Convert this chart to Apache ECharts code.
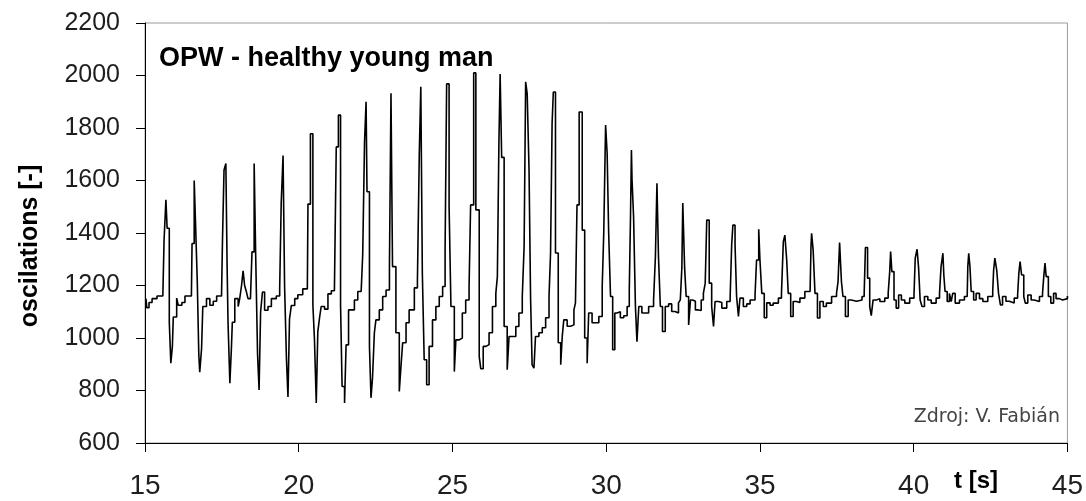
<!DOCTYPE html>
<html>
<head>
<meta charset="utf-8">
<script src="https://cdn.jsdelivr.net/npm/echarts@6/dist/echarts.min.js"></script>
<style>
  html, body { margin: 0; padding: 0; background: #fff; }
  #chart { width: 1086px; height: 501px; }
</style>
</head>
<body>
<div id="chart"></div>
<script>
// Axis ranges [min, max, step]
const timeAxis = [15, 45, 5];
const oscAxis = [600, 2200, 200];

// Texts
const chartTitle = 'OPW - healthy young man';
const yAxisTitle = 'oscilations [-]';
const xAxisTitle = 't [s]';
const sourceNote = 'Zdroj: V. Fabián';

// Signal: [t (s), oscillation value]
const seg15to20 = [
  [15.03,1150],[15.06,1115],[15.13,1135],[15.23,1150],[15.39,1160],[15.58,1165],
  [15.62,1372],[15.68,1527],[15.72,1418],[15.79,1060],[15.84,904],[15.89,967],[15.92,1080],[16.03,1152],[16.08,1125],[16.20,1135],[16.30,1160],[16.51,1168],
  [16.53,1360],[16.60,1600],[16.64,1450],[16.70,1215],[16.75,936],[16.78,870],[16.84,960],[16.88,1120],[17.00,1150],[17.11,1125],[17.22,1140],[17.33,1160],[17.49,1168],
  [17.52,1371],[17.57,1640],[17.63,1665],[17.67,1278],[17.70,1060],[17.76,828],[17.81,960],[17.84,1060],[17.92,1150],[18.03,1120],[18.08,1150],[18.14,1200],[18.19,1256],[18.24,1200],[18.30,1175],[18.35,1150],[18.43,1150],
  [18.48,1328],[18.55,1665],[18.60,1313],[18.66,940],[18.71,802],[18.76,1100],[18.82,1175],[18.89,1106],[19.00,1120],[19.11,1150],[19.27,1160],[19.38,1187],
  [19.43,1515],[19.49,1695],[19.54,1196],[19.60,922],[19.65,775],[19.70,1073],[19.76,1124],[19.87,1150],[19.97,1165]
];
const seg20to25 = [
  [20.13,1187],[20.28,1190],[20.30,1510],[20.38,1778],[20.46,1126],[20.51,998],[20.57,752],[20.62,1023],[20.68,1080],[20.73,1120],[20.84,1110],[20.95,1168],[21.06,1180],[21.16,1177],
  [21.22,1728],[21.29,1849],[21.36,1126],[21.41,815],[21.49,752],[21.54,974],[21.62,1107],[21.71,1107],[21.81,1145],[21.92,1177],[22.03,1183],[22.08,1316],
  [22.14,1747],[22.19,1900],[22.22,1557],[22.30,968],[22.35,772],[22.40,850],[22.46,1020],[22.51,1069],[22.62,1107],[22.73,1158],[22.84,1183],[22.95,1272],
  [23.00,1932],[23.05,1272],[23.16,1020],[23.27,796],[23.33,900],[23.38,982],[23.49,1058],[23.59,1107],[23.76,1191],[23.86,1221],[23.92,1697],
  [23.97,1957],[24.02,1247],[24.08,917],[24.16,822],[24.24,968],[24.35,1069],[24.46,1120],[24.57,1158],[24.68,1196],[24.76,1335],
  [24.81,1968],[24.89,1500],[24.95,1120]
];
const seg25to30 = [
  [25.06,872],[25.11,993],[25.22,1000],[25.32,1095],[25.43,1145],[25.54,1196],[25.59,1507],
  [25.69,2010],[25.76,1488],[25.87,929],[25.92,883],[26.00,968],[26.09,975],[26.19,1020],[26.30,1120],[26.41,1170],[26.46,1234],[26.51,1742],
  [26.55,2006],[26.60,1688],[26.68,1044],[26.78,879],[26.84,1006],[26.95,1006],[27.06,1044],[27.16,1095],[27.27,1158],[27.33,1348],
  [27.38,1976],[27.43,1930],[27.49,1640],[27.54,1153],[27.59,898],[27.65,885],[27.70,1006],[27.81,1020],[27.92,1039],[28.03,1077],[28.14,1158],[28.19,1324],[28.24,1818],
  [28.28,1937],[28.35,1324],[28.44,982],[28.52,898],[28.57,1006],[28.62,1069],[28.73,1045],[28.84,1050],[28.95,1107],[29.00,1134],[29.05,1507],
  [29.12,1861],[29.22,1411],[29.30,1000],[29.38,904],[29.43,1095],[29.54,1058],[29.65,1058],[29.76,1082],[29.87,1196],[29.92,1400],
  [29.98,1811]
];
const seg30to35 = [
  [30.03,1704],[30.08,1400],[30.14,1158],[30.21,955],[30.28,1095],[30.35,1100],[30.46,1077],[30.57,1085],[30.68,1120],[30.75,1183],[30.79,1462],
  [30.82,1716],[30.84,1602],[30.89,1462],[30.95,1120],[31.00,986],[31.06,1120],[31.16,1095],[31.27,1095],[31.38,1120],[31.54,1145],[31.60,1310],
  [31.65,1589],[31.70,1310],[31.76,1120],[31.83,1025],[31.92,1120],[32.03,1130],[32.13,1101],[32.24,1095],[32.35,1134],[32.41,1145],[32.46,1267],
  [32.49,1514],[32.55,1267],[32.60,1158],[32.68,1050],[32.74,1145],[32.81,1140],[32.90,1107],[33.00,1105],[33.09,1145],[33.16,1170],[33.22,1209],
  [33.27,1449],[33.35,1209],[33.43,1120],[33.49,1044],[33.54,1139],[33.65,1135],[33.76,1114],[33.92,1139],[34.03,1152],[34.08,1354],
  [34.12,1430],[34.19,1354],[34.24,1158],[34.30,1082],[34.35,1152],[34.46,1120],[34.57,1130],[34.68,1145],[34.84,1164],[34.89,1297],
  [34.96,1414]
];
const seg35to40 = [
  [35.00,1297],[35.06,1170],[35.14,1077],[35.22,1134],[35.33,1125],[35.43,1133],[35.60,1152],[35.70,1170],[35.76,1367],
  [35.81,1392],[35.87,1297],[35.92,1170],[36.00,1082],[36.08,1139],[36.19,1135],[36.30,1152],[36.46,1177],[36.63,1183],[36.66,1348],
  [36.68,1399],[36.73,1335],[36.79,1170],[36.87,1076],[36.95,1139],[37.06,1120],[37.16,1133],[37.33,1158],[37.49,1170],[37.54,1215],
  [37.59,1364],[37.65,1215],[37.70,1158],[37.78,1082],[37.87,1145],[37.97,1140],[38.14,1145],[38.32,1158],[38.39,1170],
  [38.43,1345],[38.50,1228],[38.57,1120],[38.62,1085],[38.68,1145],[38.79,1150],[38.90,1139],[39.06,1152],[39.17,1170],[39.22,1253],
  [39.25,1329],[39.29,1253],[39.36,1145],[39.43,1114],[39.51,1164],[39.60,1145],[39.71,1133],[39.87,1152]
];
const seg40to45 = [
  [40.01,1164],[40.05,1304],[40.11,1338],[40.16,1266],[40.21,1145],[40.27,1120],[40.35,1158],[40.46,1145],[40.57,1133],[40.73,1152],[40.84,1170],[40.89,1272],
  [40.95,1323],[40.98,1240],[41.02,1177],[41.09,1139],[41.16,1170],[41.22,1139],[41.27,1170],[41.35,1133],[41.49,1145],[41.65,1158],[41.74,1164],[41.76,1272],
  [41.79,1323],[41.83,1272],[41.87,1177],[41.95,1145],[42.03,1170],[42.14,1150],[42.25,1139],[42.41,1158],[42.57,1177],[42.60,1259],
  [42.64,1304],[42.70,1259],[42.76,1170],[42.82,1126],[42.89,1158],[43.00,1140],[43.11,1133],[43.27,1152],[43.38,1164],[43.42,1247],
  [43.46,1291],[43.51,1240],[43.58,1158],[43.63,1133],[43.71,1164],[43.82,1145],[43.92,1139],[44.09,1158],[44.19,1170],[44.23,1234],
  [44.27,1285],[44.31,1234],[44.38,1158],[44.46,1133],[44.55,1170],[44.63,1150],[44.74,1145],[44.84,1150],[45.00,1160]
];

const signal = [].concat(seg15to20, seg20to25, seg25to30, seg30to35, seg35to40, seg40to45);

const chart = echarts.init(document.getElementById('chart'), null, { renderer: 'canvas' });
const FONT = '"Liberation Sans", Arial, sans-serif';

chart.setOption({
  animation: false,
  backgroundColor: '#ffffff',
  grid: {
    left: 145, right: 16, top: 23, bottom: 58,
    show: true, borderColor: '#9a9a9a', borderWidth: 1, backgroundColor: 'transparent'
  },
  title: {
    text: chartTitle,
    left: 154, top: 40,
    textStyle: { fontFamily: FONT, fontSize: 27, fontWeight: 'bold', color: '#000' }
  },
  xAxis: {
    type: 'value',
    min: timeAxis[0], max: timeAxis[1], interval: timeAxis[2],
    axisLine: { onZero: false, lineStyle: { color: '#000', width: 1 } },
    axisTick: { show: true, length: 9, lineStyle: { color: '#000' } },
    axisLabel: { fontFamily: FONT, fontSize: 28, color: '#1e1e1e', margin: 29,
                 formatter: function (v) { return String(v); } },
    splitLine: { show: false }
  },
  yAxis: {
    type: 'value',
    min: oscAxis[0], max: oscAxis[1], interval: oscAxis[2],
    axisLine: { show: true, lineStyle: { color: '#000', width: 1 } },
    axisTick: { show: true, length: 9, lineStyle: { color: '#000' } },
    axisLabel: { fontFamily: FONT, fontSize: 25, color: '#1e1e1e', margin: 25,
                 formatter: function (v) { return String(v); } },
    splitLine: { show: false }
  },
  graphic: [
    {
      type: 'text', x: 30, y: 246, rotation: Math.PI / 2,
      style: { text: yAxisTitle, fontFamily: FONT, fontSize: 25, fontWeight: 'bold', fill: '#000',
               textAlign: 'center', textVerticalAlign: 'middle' }
    },
    {
      type: 'text', x: 976, y: 481,
      style: { text: xAxisTitle, fontFamily: FONT, fontSize: 24, fontWeight: 'bold', fill: '#000',
               textAlign: 'center', textVerticalAlign: 'middle' }
    },
    {
      type: 'text', x: 1060, y: 417,
      style: { text: sourceNote, fontFamily: '"DejaVu Sans", sans-serif', fontSize: 19, fill: '#444',
               textAlign: 'right', textVerticalAlign: 'middle' }
    }
  ],
  series: [{
    type: 'line',
    data: signal,
    step: 'end',
    showSymbol: false,
    sampling: null,
    lineStyle: { color: '#000', width: 1.6 },
    z: 3
  }]
});
</script>
</body>
</html>
